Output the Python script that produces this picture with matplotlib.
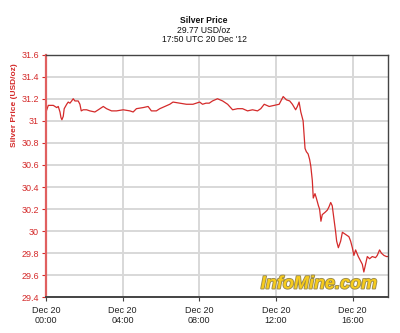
import matplotlib
matplotlib.use('Agg')
import matplotlib.pyplot as plt
import matplotlib.patheffects as pe

# hours since Dec 20 00:00 UTC, price in USD/oz
hours = [0.00, 0.12, 0.38, 0.56, 0.64, 0.73, 0.78, 0.83, 0.90, 0.95,
         1.08, 1.16, 1.25, 1.34, 1.42, 1.51, 1.68, 1.77, 1.84, 1.94,
         2.12, 2.29, 2.55, 2.73, 2.99, 3.16, 3.42, 3.68, 4.03, 4.38,
         4.55, 4.72, 5.07, 5.33, 5.50, 5.76, 5.94, 6.20, 6.46, 6.63,
         6.98, 7.33, 7.67, 8.02, 8.17, 8.35, 8.52, 8.69, 8.95, 9.22,
         9.48, 9.74, 10.00, 10.26, 10.52, 10.78, 11.04, 11.21, 11.39, 11.65,
         11.91, 12.17, 12.38, 12.55, 12.72, 12.86, 13.03, 13.12, 13.21, 13.30,
         13.42, 13.52, 13.59, 13.68, 13.76, 13.82, 13.90, 13.95, 14.04, 14.11,
         14.22, 14.28, 14.35, 14.42, 14.56, 14.68, 14.77, 14.86, 14.94, 15.03,
         15.12, 15.17, 15.26, 15.38, 15.47, 15.64, 15.81, 15.90, 15.99, 16.07,
         16.16, 16.30, 16.42, 16.51, 16.59, 16.68, 16.77, 16.89, 17.03, 17.20,
         17.29, 17.41, 17.51, 17.64, 17.77, 17.83]
price = [31.08, 31.14, 31.14, 31.12, 31.13, 31.08, 31.03, 31.01, 31.04, 31.11,
         31.15, 31.17, 31.16, 31.18, 31.20, 31.18, 31.18, 31.15, 31.09, 31.10,
         31.10, 31.09, 31.08, 31.10, 31.13, 31.11, 31.09, 31.09, 31.10, 31.09,
         31.08, 31.11, 31.12, 31.13, 31.09, 31.09, 31.11, 31.13, 31.15, 31.17,
         31.16, 31.15, 31.15, 31.17, 31.15, 31.16, 31.16, 31.18, 31.20, 31.18,
         31.15, 31.10, 31.11, 31.11, 31.09, 31.10, 31.09, 31.11, 31.15, 31.13,
         31.14, 31.15, 31.22, 31.19, 31.18, 31.15, 31.10, 31.13, 31.17, 31.08,
         31.00, 30.75, 30.72, 30.70, 30.65, 30.59, 30.46, 30.30, 30.34, 30.30,
         30.23, 30.20, 30.09, 30.15, 30.17, 30.19, 30.22, 30.26, 30.23, 30.11,
         29.99, 29.91, 29.85, 29.91, 29.99, 29.97, 29.95, 29.91, 29.85, 29.78,
         29.83, 29.77, 29.73, 29.70, 29.63, 29.70, 29.77, 29.75, 29.77, 29.76,
         29.78, 29.83, 29.80, 29.78, 29.77, 29.77]

xtick_pos = [0, 4, 8, 12, 16]
xtick_labels = ['Dec 20\n00:00', 'Dec 20\n04:00', 'Dec 20\n08:00',
                'Dec 20\n12:00', 'Dec 20\n16:00']

red = '#d42a2a'
dark = '#444444'
plt.rcParams['font.family'] = ['Liberation Sans', 'DejaVu Sans']

fig = plt.figure(figsize=(4.0, 3.33), dpi=100)
ax = fig.add_axes([0.115, 0.107, 0.854, 0.729])

ax.plot(hours, price, color=red, lw=0.9)
ax.set_xlim(0, 17.83)
ax.set_ylim(29.4, 31.6)
ax.set_yticks([29.4 + 0.2 * i for i in range(12)])
ax.yaxis.set_major_formatter(matplotlib.ticker.FormatStrFormatter('%g'))
ax.set_xticks(xtick_pos)
ax.set_xticklabels(xtick_labels)
ax.grid(True, color='#d8d8d8', lw=1.4)
ax.set_axisbelow(True)

ax.tick_params(axis='y', colors=red, labelsize=6.5, length=3, width=0.8, pad=2)
ax.tick_params(axis='x', colors=dark, labelsize=6.5, length=3, width=0.8, pad=3)
for lab in ax.get_xticklabels():
    lab.set_color('#222222')
for s in ['top', 'right', 'bottom']:
    ax.spines[s].set_color(dark)
    ax.spines[s].set_linewidth(1.0)
ax.spines['bottom'].set_linewidth(1.4)
ax.spines['left'].set_color('#e06060')
ax.spines['left'].set_linewidth(1.6)

ax.set_ylabel('Silver Price (USD/oz)', color=red, fontsize=6, fontweight='bold')
ax.yaxis.set_label_coords(-0.082, 0.79)

fig.text(0.51, 0.937, 'Silver Price', ha='center', va='center', fontsize=6.2, fontweight='bold', color='#111111')
fig.text(0.51, 0.909, '29.77 USD/oz', ha='center', va='center', fontsize=6.2, color='#111111')
fig.text(0.51, 0.880, "17:50 UTC 20 Dec '12", ha='center', va='center', fontsize=6.2, color='#111111')

fig.text(0.797, 0.147, 'InfoMine.com', ha='center', va='center', fontsize=13,
         fontweight='bold', fontstyle='italic', color='#f7cc1c',
         path_effects=[pe.withStroke(linewidth=1.3, foreground='#9a8a50')])

fig.savefig('out.png', dpi=100)
